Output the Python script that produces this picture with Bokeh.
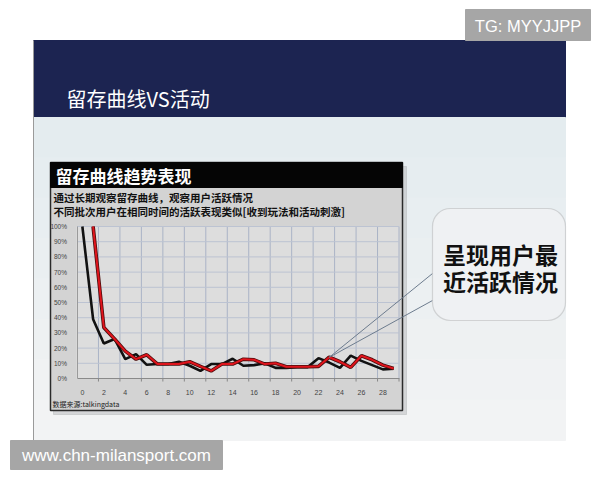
import numpy as np
from bokeh.plotting import figure
from bokeh.models import (Range1d, LinearAxis, FixedTicker, PrintfTickFormatter,
                          BoxAnnotation, Label)
from bokeh.core.properties import value
from bokeh.embed import file_html
from bokeh.resources import INLINE

# retention (%) by day, two user batches
days_black = list(range(0, 30))
retention_black = [100, 39, 23, 26, 12.7, 16, 9, 9.5, 9.5, 11, 8.4, 5, 9.5, 9.5, 13,
                   8.4, 8.8, 10, 7, 7, 7.5, 7.5, 13.4, 10.5, 7, 15, 11.6, 8.8, 6, 6.5]
days_red = list(range(1, 30))
retention_red = [100, 33.6, 26, 18, 12.7, 15.6, 9.5, 9.5, 9.5, 11, 8, 5, 9.5, 9.5,
                 12.7, 12.3, 9.5, 10, 7.7, 7.7, 7.7, 8, 14, 11, 7.3, 15, 12.3, 8.8, 6.6]
x_ticks = list(range(0, 29, 2))
y_ticks = list(range(0, 101, 10))

slide_title = "留存曲线VS活动"
chart_title = "留存曲线趋势表现"
subtitles = ["通过长期观察留存曲线，观察用户活跃情况",
             "不同批次用户在相同时间的活跃表现类似[收到玩法和活动刺激]"]
source_note = "数据来源:talkingdata"
callout_lines = ["呈现用户最", "近活跃情况"]
tag_top = "TG: MYYJJPP"
tag_bottom = "www.chn-milansport.com"

CJK = "Noto Sans CJK SC"
LAT = "Liberation Sans"

# page geometry (pixels in the 600x480 window; canvas sits at the page origin)
W, H = 600, 480
PL, PR, PT, PB = 76.5, 398.5, 226, 378      # inner plot area
XLO, XHI = -0.5, 29.5                       # day axis limits
kx = (PR - PL) / (XHI - XLO)
ky = (PB - PT) / 100.0

p = figure(width=W, height=H, x_range=Range1d(0, W), y_range=Range1d(H, 0),
           output_backend="svg", toolbar_location=None, x_axis_type=None, y_axis_type=None,
           min_border=0, outline_line_color=None,
           background_fill_color="white", border_fill_color="white")
p.extra_x_ranges = {"days": Range1d(XLO - PL / kx, XHI + (W - PR) / kx)}
p.extra_y_ranges = {"pct": Range1d(-(H - PB) / ky, 100 + PT / ky)}
D = dict(x_range_name="days", y_range_name="pct")

# slide background
p.quad(left=33, right=565, top=40, bottom=117, color="#1c2451")
bands = np.linspace(117, 440, 9)
shades = ["#e4ecef", "#e6edf0", "#e8eef1", "#eaeff1", "#ecf0f2", "#eef1f2", "#f0f2f3", "#f2f3f4"]
p.quad(left=33, right=565, top=bands[:-1], bottom=bands[1:], color=shades)
p.segment(x0=33, y0=40, x1=33, y1=440, line_color="#9a9a9a", line_width=1)
p.text(x=[66], y=[98], text=[slide_title], text_font=value(CJK), text_font_size="20px",
       text_color="white", text_baseline="middle")

# chart box
p.quad(left=53, right=406, top=166, bottom=414, color="#b5b8ba", alpha=0.5)
p.quad(left=50, right=402, top=162, bottom=410, fill_color="#d3d3d3",
       line_color="#2a2a2a", line_width=1.5)
p.quad(left=50, right=402, top=162, bottom=187, color="#050505")
p.text(x=[55], y=[175], text=[chart_title], text_font=value(CJK), text_font_size="17px",
       text_font_style="bold", text_color="white", text_baseline="middle")
p.text(x=[53, 53], y=[197, 211], text=subtitles, text_font=value(CJK),
       text_font_size="10.5px", text_font_style="bold", text_color="#111111",
       text_baseline="middle")
p.text(x=[52], y=[403], text=[source_note], text_font=value(CJK), text_font_size="7px",
       text_color="#222222", text_baseline="middle")
p.quad(left=PL, right=PR, top=PT, bottom=PB, color="#dddddd")

# grid
grid_x = list(np.arange(1.5, 30, 2))
p.segment(x0=grid_x, y0=0, x1=grid_x, y1=100, line_color="#aab3c6", line_width=1, **D)
p.segment(x0=XLO, y0=y_ticks[1:], x1=XHI, y1=y_ticks[1:], line_color="#bcc3d2",
          line_width=1, **D)
p.segment(x0=grid_x, y0=0, x1=grid_x, y1=-2, line_color="#888888", line_width=1, **D)

# series
p.line(days_black, retention_black, line_color="#111111", line_width=2.6, **D)
p.line(days_red, retention_red, line_color="#4a0c0c", line_width=3.6, **D)
p.line(days_red, retention_red, line_color="#e0141c", line_width=2, **D)

xaxis = LinearAxis(fixed_location=0, bounds=(XLO, XHI), ticker=FixedTicker(ticks=x_ticks), **D)
xaxis.axis_line_color = "#8a8a8a"
xaxis.major_tick_line_color = None
xaxis.minor_tick_line_color = None
xaxis.major_label_text_font = LAT
xaxis.major_label_text_font_size = "7px"
xaxis.major_label_text_color = "#444444"
xaxis.major_label_standoff = 5
p.add_layout(xaxis, "below")

yaxis = LinearAxis(fixed_location=XLO, bounds=(0, 100), ticker=FixedTicker(ticks=y_ticks),
                   formatter=PrintfTickFormatter(format="%d%%"), **D)
yaxis.axis_line_color = "#9a9a9a"
yaxis.major_tick_line_color = None
yaxis.minor_tick_line_color = None
yaxis.major_label_text_font = LAT
yaxis.major_label_text_font_size = "6.5px"
yaxis.major_label_text_color = "#444444"
yaxis.major_label_standoff = 4
p.add_layout(yaxis, "left")

# callout
p.segment(x0=[328.5, 328.5], y0=[357, 357], x1=[432, 432], y1=[273, 300],
          line_color="#6d7c8e", line_width=1)
p.add_layout(BoxAnnotation(left=432, right=565, top=208, bottom=320, fill_color="#eff1f3",
                           fill_alpha=1, line_color="#8c8c8c", line_width=1.2,
                           border_radius=18))
for i, t in enumerate(callout_lines):
    p.add_layout(Label(x=500, y=253 + 27 * i, text=t, text_font=CJK, text_font_size="23px",
                       text_font_style="bold", text_color="#111111", text_align="center",
                       text_baseline="middle"))

# watermark tags
p.quad(left=[465, 10], right=[590, 222], top=[9, 440], bottom=[40, 469], color="#a6a6a6")
p.text(x=[527.5, 116], y=[25, 455], text=[tag_top, tag_bottom], text_font=value(LAT),
       text_font_size=["16.5px", "17px"], text_color="white", text_align="center",
       text_baseline="middle")

open("out.html", "w").write(file_html(p, INLINE))
